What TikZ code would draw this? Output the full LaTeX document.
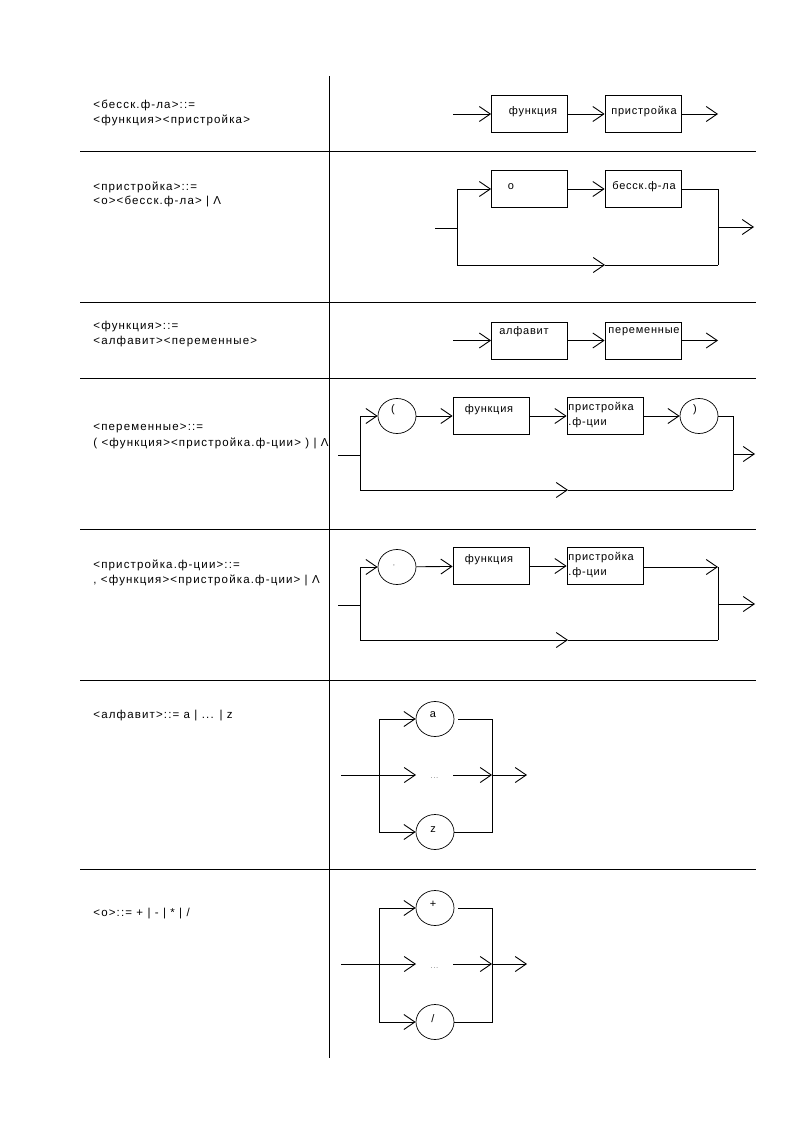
\documentclass[tikz,border=0pt]{standalone}
\usepackage{fontspec}
\newfontfamily\bnf[LetterSpace=10]{Liberation Sans}
\newfontfamily\bnflab[LetterSpace=7]{Liberation Sans}
\usetikzlibrary{arrows.meta,shapes.geometric}
\begin{document}
\begin{tikzpicture}[x=1pt,y=-1pt,
  every node/.style={inner sep=0pt},
  txt/.style={font=\bnf\fontsize{11.5}{15}\selectfont, anchor=west, align=left},
  lab/.style={font=\bnflab\fontsize{11}{15}\selectfont},
  dots/.style={font=\bnflab\fontsize{8}{10}\selectfont, text=gray},
  box/.style={draw, line width=0.8pt, minimum width=76pt, minimum height=37pt},
  oval/.style={draw, ellipse, line width=0.7pt, minimum width=38pt, minimum height=35pt},
  arr/.style={-{Straight Barb[length=11pt,width=15pt]}},
  line width=0.9pt]
\useasboundingbox (0,0) rectangle (794,1123);

% table rules
\draw[line width=0.8pt] (329,76) -- (329,1058);
\foreach \y in {151,302,378,529,680,869}
  \draw[line width=0.8pt] (80,\y) -- (756,\y);

% grammar rules
\node[txt] (t1a) at (93,105) {<бесск.ф-ла>::=};
\node[txt] (t1b) at (93,120) {<функция><пристройка>};
\node[txt] (t2a) at (93,187) {<пристройка>::=};
\node[txt] (t2b) at (93,202) {<o><бесск.ф-ла> | Λ};
\node[txt] (t3a) at (93,327) {<функция>::=};
\node[txt] (t3b) at (93,342) {<алфавит><переменные>};
\node[txt] (t4a) at (93,428) {<переменные>::=};
\node[txt] (t4b) at (93,443) {( <функция><пристройка.ф-ции> ) | Λ};
\node[txt] (t5a) at (93,565) {<пристройка.ф-ции>::=};
\node[txt] (t5b) at (93,580) {, <функция><пристройка.ф-ции> | Λ};
\node[txt] (t6) at (93,716) {<алфавит>::= a | ... | z};
\node[txt] (t7) at (93,914) {<o>::= + | - | * | /};

% row 1
\node[box] (r1a) at (529.5,114) {};
\node[lab] (r1al) at (533,112) {функция};
\node[box] (r1b) at (643,114) {};
\node[lab] (r1bl) at (644,112) {пристройка};
\coordinate (r1in) at (453,114);
\coordinate (r1out) at (718,114);
\draw[arr] (r1in) -- (r1a);
\draw[arr] (r1a) -- (r1b);
\draw[arr] (r1b) -- (r1out);

% row 2
\node[box] (r2a) at (529.5,189) {};
\node[lab] (r2al) at (511,187) {o};
\node[box] (r2b) at (643,189) {};
\node[lab] (r2bl) at (644,187) {бесск.ф-ла};
\coordinate (r2in) at (435,228);
\coordinate (r2j) at (457,228);
\coordinate (r2t) at (457,189);
\coordinate (r2bl) at (457,265);
\coordinate (r2m) at (605,265);
\coordinate (r2br) at (718,265);
\coordinate (r2tr) at (718,189);
\coordinate (r2o) at (718,227);
\coordinate (r2out) at (754,227);
\draw (r2in) -- (r2j);
\draw (r2t) -- (r2bl);
\draw[arr] (r2t) -- (r2a);
\draw[arr] (r2a) -- (r2b);
\draw (r2b) -- (r2tr) -- (r2br);
\draw[arr] (r2bl) -- (r2m);
\draw (r2m) -- (r2br);
\draw[arr] (r2o) -- (r2out);

% row 3
\node[box] (r3a) at (529.5,340.5) {};
\node[lab] (r3al) at (524,332) {алфавит};
\node[box] (r3b) at (643,340.5) {};
\node[lab] (r3bl) at (644,332) {переменные};
\coordinate (r3in) at (453,340.5);
\coordinate (r3out) at (718,340.5);
\draw[arr] (r3in) -- (r3a);
\draw[arr] (r3a) -- (r3b);
\draw[arr] (r3b) -- (r3out);

% row 4
\node[oval] (r4c1) at (397,416) {};
\node[lab] (r4c1l) at (393,410) {(};
\node[box] (r4a) at (491,416) {};
\node[lab] (r4al) at (489,410) {функция};
\node[box] (r4b) at (605,416) {};
\node[lab, anchor=west] (r4bl1) at (568,408) {пристройка};
\node[lab, anchor=west] (r4bl2) at (568,423) {.ф-ции};
\node[oval] (r4c2) at (699,416) {};
\node[lab] (r4c2l) at (695,410) {)};
\coordinate (r4in) at (338,455);
\coordinate (r4j) at (360,455);
\coordinate (r4t) at (360,416);
\coordinate (r4bl) at (360,490);
\coordinate (r4m) at (568,490);
\coordinate (r4br) at (733,490);
\coordinate (r4tr) at (733,416);
\coordinate (r4o) at (733,454);
\coordinate (r4out) at (755,454);
\draw (r4in) -- (r4j);
\draw (r4t) -- (r4bl);
\draw[arr] (r4t) -- (r4c1);
\draw[arr] (r4c1) -- (r4a);
\draw[arr] (r4a) -- (r4b);
\draw[arr] (r4b) -- (r4c2);
\draw (r4c2) -- (r4tr) -- (r4br);
\draw[arr] (r4bl) -- (r4m);
\draw (r4m) -- (r4br);
\draw[arr] (r4o) -- (r4out);

% row 5
\node[oval] (r5c1) at (397,567) {};
\node[dots] (r5c1l) at (394,566) {,};
\node[box] (r5a) at (491,566) {};
\node[lab] (r5al) at (489,560) {функция};
\node[box] (r5b) at (605,566) {};
\node[lab, anchor=west] (r5bl1) at (568,558) {пристройка};
\node[lab, anchor=west] (r5bl2) at (568,573) {.ф-ции};
\coordinate (r5in) at (338,605);
\coordinate (r5j) at (360,605);
\coordinate (r5t) at (360,567);
\coordinate (r5bl) at (360,640);
\coordinate (r5m) at (568,640);
\coordinate (r5br) at (718,640);
\coordinate (r5tr) at (718,567);
\coordinate (r5o) at (718,604);
\coordinate (r5out) at (755,604);
\draw (r5in) -- (r5j);
\draw (r5t) -- (r5bl);
\draw[arr] (r5t) -- (r5c1);
\draw[arr] (r5c1) -- (r5a);
\draw[arr] (r5a) -- (r5b);
\draw[arr] (r5b.east|-r5tr) -- (r5tr);
\draw (r5tr) -- (r5br);
\draw[arr] (r5bl) -- (r5m);
\draw (r5m) -- (r5br);
\draw[arr] (r5o) -- (r5out);

% row 6
\node[oval] (r6c1) at (435,719) {};
\node[lab] (r6c1l) at (433,715) {a};
\node[dots] (r6d) at (434.5,778) {...};
\node[oval] (r6c2) at (435,832) {};
\node[lab] (r6c2l) at (433,830) {z};
\coordinate (r6in) at (341,775);
\coordinate (r6j) at (379,775);
\coordinate (r6t) at (379,719);
\coordinate (r6b) at (379,832);
\coordinate (r6dl) at (416,775);
\coordinate (r6dr) at (453,775);
\coordinate (r6ct) at (458,719);
\coordinate (r6rt) at (492,719);
\coordinate (r6rr) at (492,775);
\coordinate (r6rb) at (492,832);
\coordinate (r6out) at (527,775);
\draw (r6in) -- (r6j);
\draw (r6t) -- (r6b);
\draw[arr] (r6t) -- (r6c1);
\draw[arr] (r6j) -- (r6dl);
\draw[arr] (r6b) -- (r6c2);
\draw (r6ct) -- (r6rt) -- (r6rb) -- (r6c2);
\draw[arr] (r6dr) -- (r6rr);
\draw[arr] (r6rr) -- (r6out);

% row 7
\node[oval] (r7c1) at (435,908) {};
\node[lab] (r7c1l) at (433,904) {+};
\node[dots] (r7d) at (434.5,968) {...};
\node[oval] (r7c2) at (435,1022) {};
\node[lab] (r7c2l) at (433,1019) {/};
\coordinate (r7in) at (341,964);
\coordinate (r7j) at (379,964);
\coordinate (r7t) at (379,908);
\coordinate (r7b) at (379,1022);
\coordinate (r7dl) at (416,964);
\coordinate (r7dr) at (453,964);
\coordinate (r7ct) at (458,908);
\coordinate (r7rt) at (492,908);
\coordinate (r7rr) at (492,964);
\coordinate (r7rb) at (492,1022);
\coordinate (r7out) at (527,964);
\draw (r7in) -- (r7j);
\draw (r7t) -- (r7b);
\draw[arr] (r7t) -- (r7c1);
\draw[arr] (r7j) -- (r7dl);
\draw[arr] (r7b) -- (r7c2);
\draw (r7ct) -- (r7rt) -- (r7rb) -- (r7c2);
\draw[arr] (r7dr) -- (r7rr);
\draw[arr] (r7rr) -- (r7out);
\end{tikzpicture}
\end{document}
